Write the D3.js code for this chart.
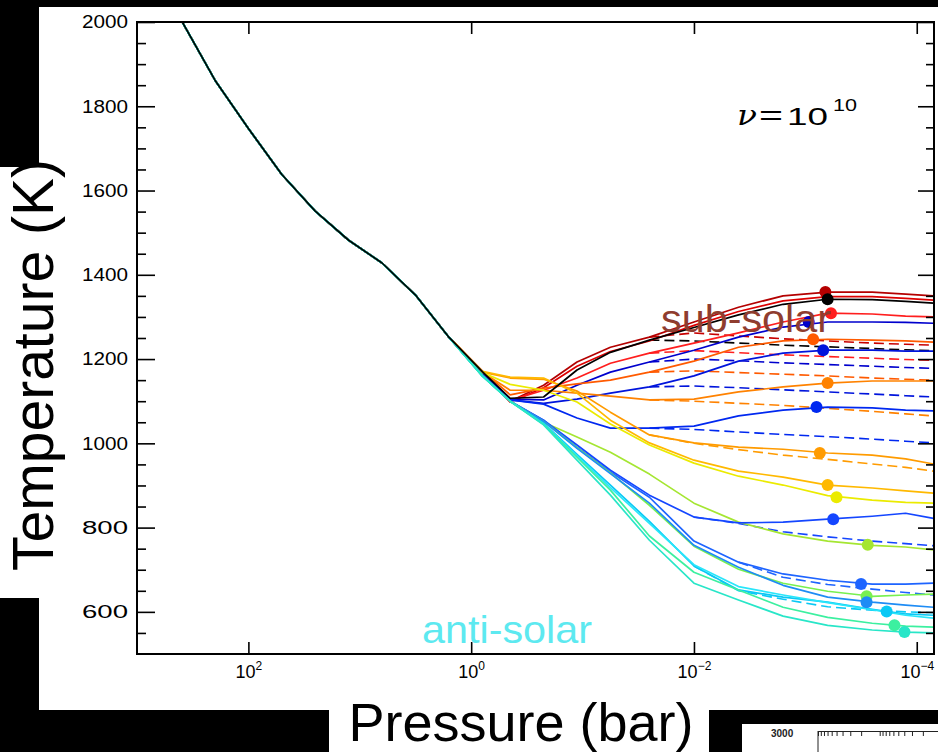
<!DOCTYPE html>
<html>
<head>
<meta charset="utf-8">
<script src="https://cdn.jsdelivr.net/npm/d3@7"></script>
<style>
html, body { margin: 0; padding: 0; background: #000; }
svg { display: block; }
</style>
</head>
<body>
<div class="canvas"></div>
<script>
// pressure levels of the model, log10(P / bar)
const logP = [3.0, 2.6, 2.3, 2.0, 1.7, 1.4, 1.1, 0.8, 0.5, 0.2,
  -0.1, -0.35, -0.65, -0.95, -1.25, -1.6, -2.0, -2.4, -2.8, -3.2, -3.6, -3.9, -4.15];

// deep atmosphere, same for every profile (logP 3.0 .. 0.2)
const deepT = [2195, 2003, 1862, 1747, 1638, 1551, 1482, 1428, 1352, 1252];

// upper atmosphere, solid profiles (logP -0.1 .. -4.15)
const tDarkRed    = [1169, 1100, 1138, 1193, 1228, 1252, 1288, 1323, 1350, 1359, 1359, 1354, 1350];
const tRed2       = [1167, 1098, 1132, 1183, 1218, 1243, 1280, 1313, 1338, 1348, 1348, 1344, 1340];
const tBlack      = [1170, 1107, 1110, 1174, 1216, 1245, 1275, 1305, 1330, 1342, 1341, 1337, 1333];
const tRed        = [1167, 1102, 1126, 1155, 1190, 1214, 1238, 1262, 1288, 1309, 1307, 1302, 1300];
const tNavy       = [1165, 1105, 1103, 1138, 1169, 1193, 1221, 1252, 1276, 1288, 1288, 1287, 1285];
const tOrangeRed  = [1172, 1115, 1131, 1141, 1150, 1169, 1195, 1228, 1243, 1247, 1245, 1243, 1240];
const tBlue2      = [1163, 1103, 1095, 1105, 1119, 1134, 1160, 1195, 1214, 1221, 1221, 1219, 1219];
const tOrange     = [1169, 1126, 1126, 1119, 1112, 1103, 1105, 1122, 1134, 1143, 1148, 1148, 1148];
const tBlue3      = [1163, 1103, 1093, 1060, 1036, 1036, 1041, 1065, 1079, 1086, 1084, 1079, 1077];
const tOrange2    = [1169, 1155, 1152, 1124, 1074, 1020, 1001, 991, 986, 977, 972, 963, 951];
const tAmber      = [1171, 1157, 1155, 1119, 1055, 1001, 960, 934, 920, 901, 894, 887, 882];
const tYellow     = [1168, 1140, 1126, 1098, 1046, 996, 953, 922, 901, 876, 865, 860, 858];
const tYellowGrn  = [1162, 1100, 1050, 1015, 979, 927, 858, 813, 785, 768, 758, 754, 747];
const tBlue4      = [1162, 1100, 1055, 996, 936, 877, 825, 811, 813, 820, 827, 834, 822];
const tBlue5      = [1162, 1100, 1055, 991, 932, 872, 768, 718, 690, 675, 666, 666, 668];
const tGreen      = [1160, 1100, 1052, 990, 930, 853, 756, 701, 668, 649, 637, 640, 642];
const tBlue6      = [1160, 1100, 1052, 988, 928, 858, 758, 706, 663, 635, 623, 616, 611];
const tCyan       = [1160, 1100, 1048, 974, 901, 815, 709, 652, 635, 623, 606, 595, 592];
const tCyan2      = [1160, 1100, 1046, 970, 895, 810, 712, 660, 640, 622, 605, 592, 585];
const tTealGrn    = [1160, 1100, 1045, 967, 889, 780, 694, 652, 611, 587, 573, 566, 564];
const tTeal       = [1160, 1100, 1044, 960, 877, 770, 668, 628, 590, 568, 557, 552, 550];

// dashed profiles, they branch off around 10^-1.6 bar
const n = null;
const dRed1      = [n, n, n, n, n, 1252, 1262, 1255, 1248, 1243, 1238, 1235, 1233];
const dBlack     = [n, n, n, n, n, 1245, 1243, 1238, 1233, 1229, 1225, 1222, 1220];
const dRed2      = [n, n, n, n, n, 1214, 1220, 1215, 1210, 1206, 1202, 1199, 1197];
const dNavy      = [n, n, n, n, n, 1193, 1200, 1196, 1191, 1187, 1183, 1180, 1178];
const dOrangeRed = [n, n, n, n, n, 1169, 1172, 1168, 1164, 1160, 1155, 1152, 1150];
const dBlue2     = [n, n, n, n, n, 1134, 1136, 1132, 1127, 1122, 1117, 1113, 1110];
const dOrange    = [n, n, n, n, n, 1103, 1100, 1095, 1090, 1083, 1076, 1070, 1065];
const dBlue3     = [n, n, n, n, n, 1036, 1033, 1027, 1021, 1016, 1010, 1005, 1001];
const dOrange2   = [n, n, n, n, n, 1020, 1000, 985, 972, 962, 951, 943, 934];
const dBlue4     = [n, n, n, n, n, n, 825, 810, 790, 778, 768, 762, 757];
const dBlue5     = [n, n, n, n, n, n, n, 718, 682, 665, 654, 646, 640];
const dCyan      = [n, n, n, n, n, n, 709, 650, 630, 612, 604, 600, 598];

// [color, temperatures, dot logP, dot T]
const solids = [
  ['#b40000', tDarkRed, -3.18, 1359],
  ['#dc0000', tRed2, null, null],
  ['#ff1e1e', tRed, -3.23, 1309],
  ['#0000cd', tNavy, -3.03, 1288],
  ['#ff5a00', tOrangeRed, -3.07, 1247],
  ['#0014dc', tBlue2, -3.16, 1221],
  ['#ff8200', tOrange, -3.2, 1143],
  ['#0028f0', tBlue3, -3.1, 1086],
  ['#ff9b00', tOrange2, -3.13, 977],
  ['#ffb900', tAmber, -3.2, 901],
  ['#ebeb00', tYellow, -3.28, 872],
  ['#a5e632', tYellowGrn, -3.56, 759],
  ['#1446ff', tBlue4, -3.25, 820],
  ['#1e64ff', tBlue5, -3.5, 666],
  ['#78f050', tGreen, -3.55, 637],
  ['#1e8cf5', tBlue6, -3.55, 623],
  ['#0ac8f5', tCyan, -3.73, 601],
  ['#28e6fa', tCyan2, null, null],
  ['#3cf0a0', tTealGrn, -3.8, 568],
  ['#28e6c8', tTeal, -3.89, 552],
  ['#000000', tBlack, -3.2, 1342]
];
const dashes = [
  ['#c80000', dRed1], ['#000000', dBlack], ['#ff1e1e', dRed2], ['#0000cd', dNavy],
  ['#ff5a00', dOrangeRed], ['#0014dc', dBlue2], ['#ff8200', dOrange], ['#0028f0', dBlue3],
  ['#ff9b00', dOrange2], ['#1446ff', dBlue4], ['#1e64ff', dBlue5], ['#0ac8f5', dCyan]
];

const xTickExp = [2, 0, -2, -4];
const yTicks = [600, 800, 1000, 1200, 1400, 1600, 1800, 2000];

const W = 938, H = 752;
const box = { left: 137, right: 934, top: 22, bottom: 654 };

const svg = d3.select('.canvas').append('svg')
  .attr('width', W).attr('height', H);

// slide background pieces
svg.append('rect').attr('width', W).attr('height', H).attr('fill', '#000');
svg.append('rect').attr('x', 39).attr('y', 7).attr('width', W - 39).attr('height', 703).attr('fill', '#fff');
svg.append('rect').attr('x', 0).attr('y', 167).attr('width', 40).attr('height', 431).attr('fill', '#fff');
svg.append('rect').attr('x', 329).attr('y', 709).attr('width', 380).attr('height', 43).attr('fill', '#fff');

// piece of the next figure peeking in at bottom right
svg.append('rect').attr('x', 742).attr('y', 724).attr('width', 196).attr('height', 28).attr('fill', '#fff');
svg.append('text').attr('x', 771).attr('y', 737)
  .attr('font-family', 'Liberation Sans, Arial, sans-serif').attr('font-size', 10)
  .attr('font-weight', 'bold').attr('fill', '#222').text('3000');
const inset = d3.scaleLog().domain([1e3, 1e-4]).range([818, 1250]);
svg.append('g').attr('transform', 'translate(0,731)')
  .call(d3.axisBottom(inset).tickSize(5).tickSizeOuter(0).tickFormat(''))
  .call(g => g.selectAll('line').attr('stroke', '#222'))
  .call(g => g.select('.domain').attr('stroke', '#222'));
svg.append('line').attr('x1', 818).attr('x2', 818).attr('y1', 731).attr('y2', 752).attr('stroke', '#222');

// scales
const x = d3.scaleLog().domain([1e3, 7e-5]).range([box.left, box.right]);
const y = d3.scaleLinear().domain([500, 2000]).range([box.bottom, box.top]);

svg.append('clipPath').attr('id', 'clip')
  .append('rect').attr('x', box.left).attr('y', box.top)
  .attr('width', box.right - box.left).attr('height', box.bottom - box.top);

const plot = svg.append('g').attr('clip-path', 'url(#clip)');

const line = d3.line()
  .defined(d => d[1] !== null)
  .x(d => x(Math.pow(10, d[0])))
  .y(d => y(d[1]));

const full = t => logP.map((p, i) => [p, i < deepT.length ? deepT[i] : t[i - deepT.length]]);
const upper = t => logP.slice(deepT.length).map((p, i) => [p, t[i]]);

// dashed branches
plot.selectAll('.dash').data(dashes).enter().append('path')
  .attr('class', 'dash')
  .attr('fill', 'none')
  .attr('stroke', d => d[0])
  .attr('stroke-width', 1.6)
  .attr('stroke-dasharray', '10,5')
  .attr('d', d => line(upper(d[1])));

// solid profiles
plot.selectAll('.prof').data(solids).enter().append('path')
  .attr('class', 'prof')
  .attr('fill', 'none')
  .attr('stroke', d => d[0])
  .attr('stroke-width', 1.7)
  .attr('stroke-linejoin', 'round')
  .attr('d', d => line(full(d[1])));

// photosphere dots
plot.selectAll('.dot').data(solids.filter(d => d[2] !== null)).enter().append('circle')
  .attr('class', 'dot')
  .attr('cx', d => x(Math.pow(10, d[2])))
  .attr('cy', d => y(d[3]))
  .attr('r', 6)
  .attr('fill', d => d[0]);

// axes
const font = 'Liberation Sans, Arial, Helvetica, sans-serif';

svg.append('g').attr('transform', `translate(${box.left},0)`)
  .call(d3.axisLeft(y).tickValues(yTicks).tickSize(-18).tickSizeOuter(0).tickPadding(9).tickFormat(d3.format('d')))
  .call(g => g.select('.domain').remove())
  .call(g => g.selectAll('line').attr('stroke', '#000').attr('stroke-width', 1.6))
  .call(g => g.selectAll('text').attr('font-family', font).attr('font-size', 18)
    .attr('textLength', 46).attr('lengthAdjust', 'spacingAndGlyphs').attr('fill', '#000'));

const minor = d3.range(550, 2000, 50).filter(v => v % 200 !== 0);
svg.append('g').attr('transform', `translate(${box.left},0)`)
  .call(d3.axisLeft(y).tickValues(minor).tickSize(-9).tickSizeOuter(0).tickFormat(''))
  .call(g => g.select('.domain').remove())
  .call(g => g.selectAll('line').attr('stroke', '#000').attr('stroke-width', 1.6));

svg.append('g').attr('transform', `translate(${box.right},0)`)
  .call(d3.axisRight(y).tickValues(yTicks).tickSize(-16).tickSizeOuter(0).tickFormat(''))
  .call(g => g.select('.domain').remove())
  .call(g => g.selectAll('line').attr('stroke', '#000').attr('stroke-width', 1.6));

svg.append('g').attr('transform', `translate(${box.right},0)`)
  .call(d3.axisRight(y).tickValues(minor).tickSize(-8).tickSizeOuter(0).tickFormat(''))
  .call(g => g.select('.domain').remove())
  .call(g => g.selectAll('line').attr('stroke', '#000').attr('stroke-width', 1.6));

const xTicks = xTickExp.map(e => Math.pow(10, e));

svg.append('g').attr('transform', `translate(0,${box.top})`)
  .call(d3.axisTop(x).tickValues(xTicks).tickSize(-12).tickSizeOuter(0).tickFormat(''))
  .call(g => g.select('.domain').remove())
  .call(g => g.selectAll('line').attr('stroke', '#000').attr('stroke-width', 1.6));

const gx = svg.append('g').attr('transform', `translate(0,${box.bottom})`)
  .call(d3.axisBottom(x).tickValues(xTicks).tickSize(-12).tickSizeOuter(0).tickFormat(''))
  .call(g => g.select('.domain').remove())
  .call(g => g.selectAll('line').attr('stroke', '#000').attr('stroke-width', 1.6));

gx.selectAll('.tick text').each(function (d, i) {
  const t = d3.select(this)
    .attr('y', 24).attr('dy', null)
    .attr('font-family', font).attr('font-size', 18).attr('fill', '#000')
    .attr('text-anchor', 'middle');
  t.append('tspan').text('10');
  const e = xTickExp[i];
  t.append('tspan').attr('dy', -8).attr('font-size', 12)
    .text(e < 0 ? '\u2212' + Math.abs(e) : String(e));
});

// frame
svg.append('rect')
  .attr('x', box.left).attr('y', box.top)
  .attr('width', box.right - box.left).attr('height', box.bottom - box.top)
  .attr('fill', 'none').attr('stroke', '#000').attr('stroke-width', 2);

// annotations
svg.append('text').attr('x', 661).attr('y', 332)
  .attr('font-family', font).attr('font-size', 39).attr('fill', '#8f3d2f')
  .attr('textLength', 170).attr('lengthAdjust', 'spacingAndGlyphs')
  .text('sub-solar');
svg.append('text').attr('x', 422).attr('y', 643)
  .attr('font-family', font).attr('font-size', 39).attr('fill', '#5de9f0')
  .attr('textLength', 170).attr('lengthAdjust', 'spacingAndGlyphs')
  .text('anti-solar');

const nu = svg.append('g').attr('font-family', font).attr('fill', '#000');
nu.append('text').attr('x', 737).attr('y', 125).attr('font-size', 28)
  .attr('font-style', 'italic').attr('font-family', 'DejaVu Serif, serif')
  .attr('textLength', 20).attr('lengthAdjust', 'spacingAndGlyphs').text('\u03bd');
nu.append('text').attr('x', 759).attr('y', 125).attr('font-size', 27)
  .attr('textLength', 24).attr('lengthAdjust', 'spacingAndGlyphs').text('=');
nu.append('text').attr('x', 787).attr('y', 125).attr('font-size', 24)
  .attr('textLength', 41).attr('lengthAdjust', 'spacingAndGlyphs').text('10');
nu.append('text').attr('x', 833).attr('y', 111).attr('font-size', 16)
  .attr('textLength', 24).attr('lengthAdjust', 'spacingAndGlyphs').text('10');

// axis titles
svg.append('text')
  .attr('x', 521).attr('y', 741)
  .attr('text-anchor', 'middle')
  .attr('font-family', font).attr('font-size', 54).attr('fill', '#000')
  .text('Pressure (bar)');

svg.append('text')
  .attr('transform', 'translate(53,365) rotate(-90)')
  .attr('text-anchor', 'middle')
  .attr('font-family', font).attr('font-size', 57).attr('fill', '#000')
  .text('Temperature (K)');
</script>
</body>
</html>
